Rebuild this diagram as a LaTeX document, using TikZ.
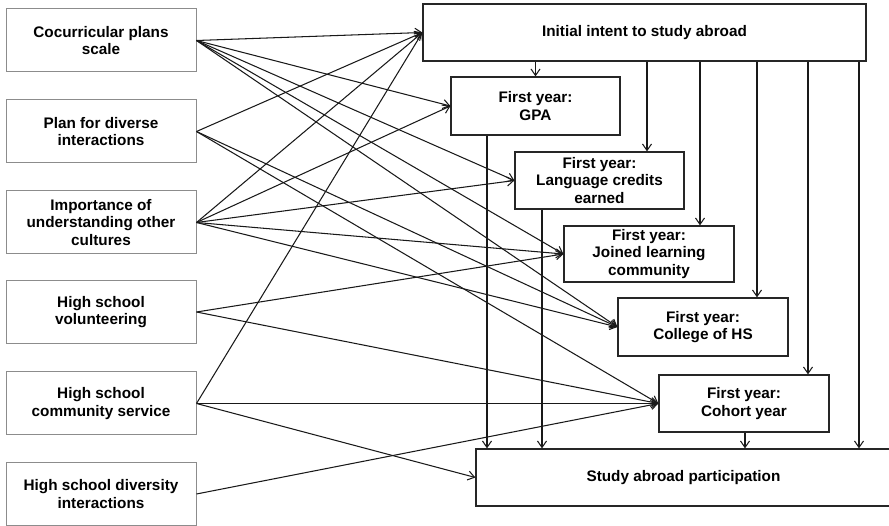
\documentclass[tikz,border=0pt]{standalone}
\usepackage{fontspec}
\setmainfont{Liberation Sans}
\usetikzlibrary{arrows.meta}
\begin{document}
\begin{tikzpicture}[x=1pt,y=-1pt,
  every node/.style={font=\fontsize{15.3}{17.7}\selectfont\bfseries, align=center, inner sep=0pt},
  lbox/.style={draw=black!45, line width=1pt, minimum width=190pt, minimum height=63pt},
  rbox/.style={draw=black!85, line width=1.2pt, minimum height=57pt},
  arr/.style={draw=black!90, line width=1.05pt, -{Straight Barb[length=6.5pt,width=9pt]}}
]
\useasboundingbox (0,0) rectangle (889,526);
% left boxes
\node[lbox] (cc) at (101,40.5) {Cocurricular plans\\scale};
\node[lbox] (pd) at (101,131.5) {Plan for diverse\\interactions};
\node[lbox] (iu) at (101,222.5) {Importance of\\understanding other\\cultures};
\node[lbox] (hv) at (101,312) {High school\\volunteering};
\node[lbox] (hc) at (101,403.5) {High school\\community service};
\node[lbox] (hd) at (101,494) {High school diversity\\interactions};
% right boxes
\node[rbox, minimum width=443pt] (init) at (644.5,32.5) {Initial intent to study abroad};
\node[rbox, minimum width=169pt, minimum height=58pt] (gpa) at (535.5,106) {First year:\\GPA};
\node[rbox, minimum width=169pt] (lang) at (599.5,180.5) {First year:\\Language credits\\earned};
\node[rbox, minimum width=170pt, minimum height=56pt] (lc) at (649,254) {First year:\\Joined learning\\community};
\node[rbox, minimum width=170pt, minimum height=58pt] (col) at (703,327) {First year:\\College of HS};
\node[rbox, minimum width=170pt] (coh) at (744,403.5) {First year:\\Cohort year};
\node[rbox, minimum width=415pt, minimum height=57pt] (sa) at (683.5,477.5) {Study abroad participation};
% vertical guide coordinates
\coordinate (v1) at (535.5,0);
\coordinate (v2) at (647,0);
\coordinate (v3) at (700,0);
\coordinate (v4) at (757,0);
\coordinate (v5) at (808,0);
\coordinate (v6) at (859,0);
\coordinate (w1) at (487,0);
\coordinate (w2) at (542,0);
\coordinate (w3) at (745,0);
% from initial intent
\draw[arr] (init.south -| v1) -- (gpa.north -| v1);
\draw[arr] (init.south -| v2) -- (lang.north -| v2);
\draw[arr] (init.south -| v3) -- (lc.north -| v3);
\draw[arr] (init.south -| v4) -- (col.north -| v4);
\draw[arr] (init.south -| v5) -- (coh.north -| v5);
\draw[arr] (init.south -| v6) -- (sa.north -| v6);
% to study abroad
\draw[arr] (gpa.south -| w1) -- (sa.north -| w1);
\draw[arr] (lang.south -| w2) -- (sa.north -| w2);
\draw[arr] (coh.south -| w3) -- (sa.north -| w3);
% cocurricular
\draw[arr] (cc.east) -- (init.west);
\draw[arr] (cc.east) -- (gpa.west);
\draw[arr] (cc.east) -- (lang.west);
\draw[arr] (cc.east) -- (lc.west);
\draw[arr] (cc.east) -- (col.west);
% plan for diverse
\draw[arr] (pd.east) -- (init.west);
\draw[arr] (pd.east) -- (col.west);
\draw[arr] (pd.east) -- (coh.west);
% importance
\draw[arr] (iu.east) -- (init.west);
\draw[arr] (iu.east) -- (gpa.west);
\draw[arr] (iu.east) -- (lang.west);
\draw[arr] (iu.east) -- (lc.west);
\draw[arr] (iu.east) -- (col.west);
% volunteering
\draw[arr] (hv.east) -- (lc.west);
\draw[arr] (hv.east) -- (coh.west);
% community service
\draw[arr] (hc.east) -- (init.west);
\draw[arr] (hc.east) -- (coh.west);
\draw[arr] (hc.east) -- (sa.west);
% diversity interactions
\draw[arr] (hd.east) -- (coh.west);
\end{tikzpicture}
\end{document}
